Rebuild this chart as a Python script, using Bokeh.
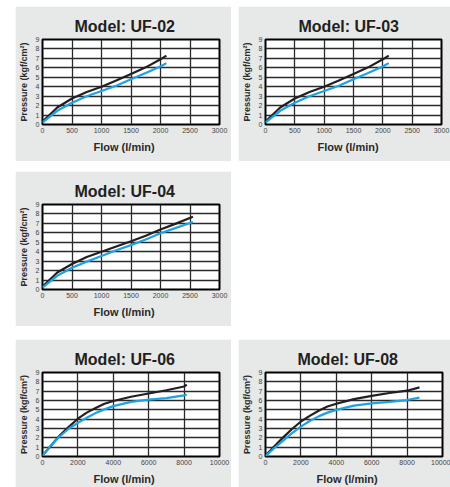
from bokeh.plotting import figure
from bokeh.models import Range1d, FixedTicker, Spacer, Title
from bokeh.layouts import row, column
from bokeh.embed import file_html
from bokeh.resources import INLINE

# ---- data ----
x_uf02 = [0, 100, 250, 500, 750, 1000, 1250, 1500, 1750, 2000, 2100]
black_uf02 = [0.3, 0.9, 1.8, 2.75, 3.45, 4.0, 4.65, 5.35, 6.05, 6.9, 7.3]
blue_uf02 = [0.2, 0.7, 1.45, 2.3, 3.0, 3.55, 4.1, 4.8, 5.45, 6.15, 6.5]

x_uf03 = [0, 100, 250, 500, 750, 1000, 1250, 1500, 1750, 2000, 2100]
black_uf03 = [0.3, 0.9, 1.8, 2.75, 3.45, 4.0, 4.65, 5.35, 6.05, 6.9, 7.3]
blue_uf03 = [0.2, 0.7, 1.45, 2.3, 3.0, 3.55, 4.1, 4.8, 5.45, 6.15, 6.5]

x_uf04 = [0, 100, 250, 500, 750, 1000, 1250, 1500, 1750, 2000, 2250, 2550]
black_uf04 = [0.3, 0.9, 1.8, 2.7, 3.45, 4.0, 4.55, 5.1, 5.7, 6.35, 6.95, 7.7]
blue_uf04 = [0.2, 0.7, 1.45, 2.3, 2.95, 3.55, 4.15, 4.7, 5.3, 5.95, 6.5, 7.15]

x_uf06 = [0, 500, 1000, 1500, 2000, 2500, 3000, 3500, 4000, 5000, 6000, 7000, 8000, 8150]
black_uf06 = [0.1, 1.2, 2.3, 3.2, 4.05, 4.7, 5.2, 5.65, 5.95, 6.4, 6.75, 7.1, 7.5, 7.7]
blue_uf06 = [0.1, 1.25, 2.2, 3.0, 3.6, 4.15, 4.65, 5.05, 5.4, 5.85, 6.1, 6.25, 6.55, 6.65]

x_uf08 = [0, 500, 1000, 1500, 2000, 2500, 3000, 3500, 4000, 5000, 6000, 7000, 8000, 8700]
black_uf08 = [0.1, 1.1, 2.05, 2.95, 3.75, 4.35, 4.9, 5.35, 5.65, 6.15, 6.5, 6.8, 7.05, 7.4]
blue_uf08 = [0.05, 0.9, 1.7, 2.5, 3.2, 3.8, 4.3, 4.7, 5.0, 5.45, 5.7, 5.85, 6.05, 6.3]

y_ticks = [0, 1, 2, 3, 4, 5, 6, 7, 8, 9]
x_ticks_small = [0, 500, 1000, 1500, 2000, 2500, 3000]
x_ticks_large = [0, 2000, 4000, 6000, 8000, 10000]

BG = "#e7e8e8"
BLACK = "#231f20"
BLUE = "#1ca3e3"
FONT = "Liberation Sans"


def panel(title, xs, yb, yl, xmax, xticks, left, fw, right, top, fh, bottom, toff, loff):
    p = figure(width=left + fw + right, height=top + fh + bottom,
               x_range=Range1d(0, xmax), y_range=Range1d(0, 9),
               output_backend="svg", toolbar_location=None,
               min_border_left=left, min_border_right=right,
               min_border_top=top, min_border_bottom=bottom)
    p.background_fill_color = "white"
    p.border_fill_color = BG
    p.outline_line_color = "black"
    p.outline_line_width = 2
    p.title.text = title
    p.title.align = "left"
    p.title.offset = toff
    p.title.standoff = 10
    p.title.text_font = FONT
    p.title.text_font_size = "16px"
    p.title.text_font_style = "bold"
    p.title.text_color = BLACK

    for ax in (p.xaxis[0], p.yaxis[0]):
        ax.axis_line_color = None
        ax.major_tick_line_color = None
        ax.minor_tick_line_color = None
        ax.major_tick_out = 0
        ax.major_tick_in = 0
        ax.major_label_text_font = FONT
        ax.major_label_text_font_size = "7px"
        ax.major_label_text_color = "#444444"
        ax.major_label_standoff = 3
        ax.axis_label_text_font = FONT
        ax.axis_label_text_font_style = "bold"
        ax.axis_label_text_color = "#2a2a2a"

    p.xaxis.ticker = FixedTicker(ticks=xticks)
    p.yaxis.ticker = FixedTicker(ticks=y_ticks)
    p.yaxis.axis_label = "Pressure (kgf/cm\u00b2)"
    p.yaxis.axis_label_text_font_size = "9px"
    p.yaxis.axis_label_standoff = 4

    xl = Title(text="Flow (l/min)", align="left", offset=loff, standoff=6,
               text_font=FONT, text_font_size="11px", text_font_style="bold",
               text_color="#2a2a2a")
    p.add_layout(xl, "below")

    p.xgrid.ticker = FixedTicker(ticks=xticks)
    p.ygrid.ticker = FixedTicker(ticks=y_ticks)
    for g in (p.xgrid[0], p.ygrid[0]):
        g.grid_line_color = "#2a2a2a"
        g.grid_line_width = 1.3

    p.line(xs, yb, line_color=BLACK, line_width=2.2)
    p.line(xs, yl, line_color=BLUE, line_width=2.2)
    return p


p1 = panel("Model: UF-02", x_uf02, black_uf02, blue_uf02, 3000, x_ticks_small,
           26, 178, 12, 33, 85, 37, 32, 51)
p2 = panel("Model: UF-03", x_uf03, black_uf03, blue_uf03, 3000, x_ticks_small,
           26, 177, 9, 33, 85, 37, 33, 52)
p3 = panel("Model: UF-04", x_uf04, black_uf04, blue_uf04, 3000, x_ticks_small,
           26, 178, 12, 33, 85, 37, 32, 51)
p4 = panel("Model: UF-06", x_uf06, black_uf06, blue_uf06, 10000, x_ticks_large,
           26, 178, 12, 33, 84, 31, 32, 51)
p5 = panel("Model: UF-08", x_uf08, black_uf08, blue_uf08, 10000, x_ticks_large,
           27, 177, 8, 33, 84, 31, 32, 51)

layout = column(
    Spacer(width=10, height=6),
    row(Spacer(width=15, height=10), p1, Spacer(width=7, height=10), p2),
    Spacer(width=10, height=10),
    row(Spacer(width=15, height=10), p3),
    Spacer(width=10, height=13),
    row(Spacer(width=15, height=10), p4, Spacer(width=7, height=10), p5),
)

open("out.html", "w").write(file_html(layout, INLINE))
